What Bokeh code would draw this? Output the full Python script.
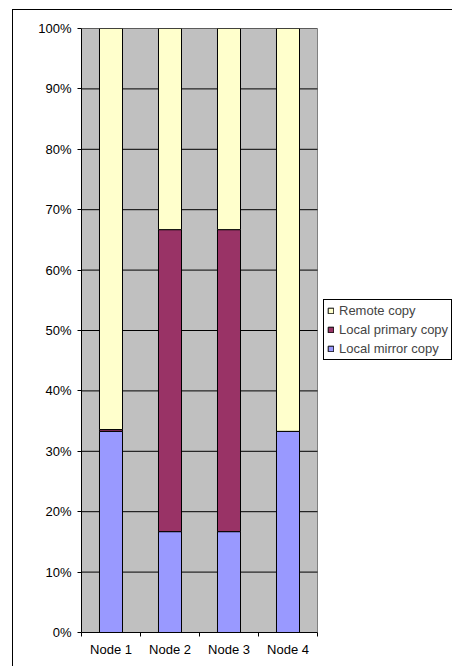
from bokeh.plotting import figure
from bokeh.models import (Range1d, FixedTicker, PrintfTickFormatter, Legend, LegendItem,
                          ColumnDataSource)
from bokeh.embed import file_html
from bokeh.resources import INLINE

# ---- data ----
nodes = ["Node 1", "Node 2", "Node 3", "Node 4"]
local_mirror = [33.3, 16.7, 16.7, 33.3]
local_primary = [0.3, 50.0, 50.0, 0.0]
remote = [66.4, 33.3, 33.3, 66.7]
y_ticks = [0, 10, 20, 30, 40, 50, 60, 70, 80, 90, 100]

series = ["local_mirror", "local_primary", "remote"]
series_labels = ["Local mirror copy", "Local primary copy", "Remote copy"]
colors = ["#9999FF", "#993366", "#FFFFCC"]

xpos = [i + 0.5 for i in range(len(nodes))]
src = ColumnDataSource(dict(x=xpos, local_mirror=local_mirror,
                            local_primary=local_primary, remote=remote))

FONT = "Liberation Sans"
W, H = 452, 666
LEFT, TOP, BOTTOM = 81, 28, 34
PLOT_W = 236                      # pixel width of the grey plot area
frame_w = W - LEFT
n = len(nodes)

p = figure(width=W, height=H, output_backend="svg", toolbar_location=None,
           x_range=Range1d(0, n * frame_w / PLOT_W), y_range=Range1d(y_ticks[0], y_ticks[-1]),
           min_border_left=LEFT, min_border_right=0, min_border_top=TOP,
           min_border_bottom=BOTTOM)
p.background_fill_color = None
p.border_fill_color = None
p.outline_line_color = None
# outer chart-area border (runs off the right and bottom edges, as in the reference)
p.styles = {"background": "linear-gradient(#000,#000) 12px 9px / 440px 1px no-repeat, "
                          "linear-gradient(#000,#000) 12px 9px / 1px 657px no-repeat, #ffffff"}

# grey plot area spanning the categories
p.quad(left=0, right=n, bottom=y_ticks[0], top=y_ticks[-1],
       fill_color="#C0C0C0", line_color="#808080", line_width=1)
# horizontal gridlines
p.segment(x0=[0] * (len(y_ticks) - 1), x1=[n] * (len(y_ticks) - 1),
          y0=y_ticks[1:], y1=y_ticks[1:], line_color="black", line_width=1)

renderers = p.vbar_stack(series, x="x", width=0.39, source=src, color=colors,
                         line_color="black", line_width=1)

p.xgrid.visible = False
p.ygrid.visible = False

# y axis
yax = p.yaxis[0]
yax.ticker = FixedTicker(ticks=y_ticks)
yax.formatter = PrintfTickFormatter(format="%d%%")
yax.axis_line_color = "black"
yax.major_tick_line_color = "black"
yax.major_tick_out = 4
yax.major_tick_in = 0
yax.minor_tick_line_color = None
yax.major_label_standoff = 6
yax.major_label_text_font = FONT
yax.major_label_text_font_size = "13px"
yax.major_label_text_color = "black"

# x axis: labels at category centres, ticks at category boundaries
xax = p.xaxis[0]
xax.bounds = (0, n)
xax.ticker = FixedTicker(ticks=xpos, minor_ticks=list(range(n + 1)))
xax.major_label_overrides = {x: nm for x, nm in zip(xpos, nodes)}
xax.axis_line_color = "black"
xax.major_tick_line_color = None
xax.major_tick_out = 0
xax.major_tick_in = 0
xax.minor_tick_line_color = "black"
xax.minor_tick_out = 4
xax.minor_tick_in = 0
xax.major_label_standoff = 5
xax.major_label_text_font = FONT
xax.major_label_text_font_size = "13px"
xax.major_label_text_color = "black"

# legend (reverse order as in reference), to the right of the plot area
items = [LegendItem(label=lab, renderers=[r]) for lab, r in zip(series_labels, renderers)][::-1]
legend = Legend(items=items, location=(242, 272), orientation="vertical",
                label_text_font=FONT, label_text_font_size="13px",
                glyph_width=7, glyph_height=7, label_height=15, label_standoff=5,
                spacing=4, padding=3, margin=0,
                border_line_color="black", border_line_width=1, border_line_alpha=1.0,
                background_fill_color="white", background_fill_alpha=1.0)
p.add_layout(legend, "center")

open("out.html", "w").write(file_html(p, INLINE))
